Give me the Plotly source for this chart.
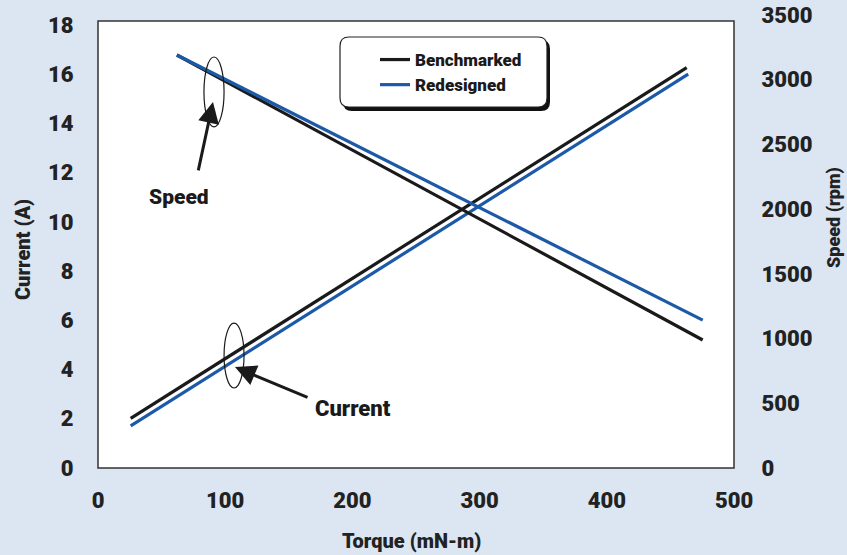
import plotly.graph_objects as go

# ---- data ----
torque_bench_current = [25.7, 462.8]
current_bench = [2.02, 16.27]
torque_red_current = [25.7, 464.0]
current_red = [1.71, 16.0]

torque_speed = [62.0, 475.4]
speed_bench = [3191, 989]
speed_red = [3191, 1143]

x_ticks = [0, 100, 200, 300, 400, 500]
y_ticks = [0, 2, 4, 6, 8, 10, 12, 14, 16, 18]
y2_ticks = [0, 500, 1000, 1500, 2000, 2500, 3000, 3500]

BLACK = "#1a1a1a"
BLUE = "#1c5aa8"
BG = "#dbe6f2"
FONT = "Roboto, Liberation Sans, sans-serif"

W, H = 847, 555
L, R, T, B = 98, 113, 15, 87
PW, PH = W - L - R, H - T - B
PLOT_TOP_PX = 21
ytop = (H - B - PLOT_TOP_PX) / PH  # domain top of the left axis / border


def px2paper(px, py):
    return (px - L) / PW, (H - B - py) / PH


def rounded_rect(x0, y0, x1, y1, r):
    def P(x, y):
        a, b = px2paper(x, y)
        return f"{a:.5f},{b:.5f}"
    d = f"M {P(x0 + r, y0)} L {P(x1 - r, y0)} Q {P(x1, y0)} {P(x1, y0 + r)} "
    d += f"L {P(x1, y1 - r)} Q {P(x1, y1)} {P(x1 - r, y1)} "
    d += f"L {P(x0 + r, y1)} Q {P(x0, y1)} {P(x0, y1 - r)} "
    d += f"L {P(x0, y0 + r)} Q {P(x0, y0)} {P(x0 + r, y0)} Z"
    return d


fig = go.Figure()
fig.add_trace(go.Scatter(x=torque_bench_current, y=current_bench, mode="lines",
                         line=dict(color=BLACK, width=3.2), name="Benchmarked",
                         xaxis="x", yaxis="y"))
fig.add_trace(go.Scatter(x=torque_red_current, y=current_red, mode="lines",
                         line=dict(color=BLUE, width=3.2), name="Redesigned",
                         xaxis="x", yaxis="y"))
fig.add_trace(go.Scatter(x=torque_speed, y=speed_bench, mode="lines",
                         line=dict(color=BLACK, width=3.2), name="Benchmarked",
                         showlegend=False, xaxis="x", yaxis="y2"))
fig.add_trace(go.Scatter(x=torque_speed, y=speed_red, mode="lines",
                         line=dict(color=BLUE, width=3.2), name="Redesigned",
                         showlegend=False, xaxis="x", yaxis="y2"))

tickfont = dict(family=FONT, size=22, color="#222222", weight=900)
titlefont = dict(family=FONT, size=20, color="#222222", weight=900)
titlefont_r = dict(family=FONT, size=18, color="#222222", weight=900)
notefont_s = dict(family=FONT, size=21, color=BLACK, weight=900)
notefont_c = dict(family=FONT, size=22, color=BLACK, weight=900)

shapes = [
    # plot area
    dict(type="rect", xref="paper", yref="paper", x0=0, x1=1, y0=0, y1=ytop,
         fillcolor="white", line=dict(color="#333333", width=1.5), layer="below"),
    # legend box shadow + box
    dict(type="path", xref="paper", yref="paper", path=rounded_rect(343, 40, 550, 111, 9),
         fillcolor="#111111", line=dict(width=0), layer="above"),
    dict(type="path", xref="paper", yref="paper", path=rounded_rect(340, 37, 547, 107, 9),
         fillcolor="white", line=dict(color="#222222", width=1.2), layer="above"),
    # ellipses
    dict(type="circle", xref="x", yref="y", x0=83.3, x1=99.1, y0=13.86, y1=16.7,
         line=dict(color=BLACK, width=1.2)),
    dict(type="circle", xref="x", yref="y", x0=99.1, x1=114.8, y0=3.25, y1=5.89,
         line=dict(color=BLACK, width=1.2)),
]

annotations = [
    dict(x=90.4, y=14.87, ax=78.6, ay=12.03, xref="x", yref="y", axref="x", ayref="y",
         text="", showarrow=True, arrowhead=2, arrowsize=1.4, arrowwidth=3, arrowcolor=BLACK),
    dict(x=107.7, y=4.10, ax=165.9, ay=2.84, xref="x", yref="y", axref="x", ayref="y",
         text="", showarrow=True, arrowhead=2, arrowsize=1.4, arrowwidth=3, arrowcolor=BLACK),
    dict(x=63.7, y=11.01, xref="x", yref="y", text="Speed", showarrow=False, font=notefont_s,
         xanchor="center", yanchor="middle"),
    dict(x=200.5, y=2.40, xref="x", yref="y", text="Current", showarrow=False, font=notefont_c,
         xanchor="center", yanchor="middle"),
    # axis titles
    dict(x=px2paper(23, 0)[0], y=px2paper(0, 250)[1], xref="paper", yref="paper",
         text="Current (A)", textangle=-90, showarrow=False, font=titlefont,
         xanchor="center", yanchor="middle"),
    dict(x=px2paper(834, 0)[0], y=px2paper(0, 218)[1], xref="paper", yref="paper",
         text="Speed (rpm)", textangle=-90, showarrow=False, font=titlefont_r,
         xanchor="center", yanchor="middle"),
    dict(x=px2paper(411, 0)[0], y=px2paper(0, 541)[1], xref="paper", yref="paper",
         text="Torque (mN-m)", showarrow=False, font=titlefont,
         xanchor="center", yanchor="middle"),
]

lx, ly = px2paper(375, 42)

fig.update_layout(
    width=W, height=H,
    margin=dict(l=L, r=R, t=T, b=B, pad=0, autoexpand=False),
    paper_bgcolor=BG, plot_bgcolor="rgba(0,0,0,0)",
    showlegend=True,
    legend=dict(x=lx, y=ly, xanchor="left", yanchor="top", bgcolor="rgba(0,0,0,0)",
                borderwidth=0, font=dict(family=FONT, size=17, color=BLACK, weight=900),
                tracegroupgap=0, itemwidth=30),
    xaxis=dict(domain=[0, 1], range=[0, 500], tickvals=x_ticks, showgrid=False,
               zeroline=False, showline=False, ticks="outside", ticklen=13,
               tickcolor="rgba(0,0,0,0)", tickfont=tickfont, anchor="y",
               automargin=False),
    yaxis=dict(domain=[0, ytop], range=[0, 18 * 447 / 443], tickvals=y_ticks,
               showgrid=False, zeroline=False, showline=False, ticks="outside",
               ticklen=19, tickcolor="rgba(0,0,0,0)", tickfont=tickfont, anchor="x",
               automargin=False),
    yaxis2=dict(domain=[0, 1], range=[0, 3500], tickvals=y2_ticks, side="right",
                showgrid=False, zeroline=False, showline=False, ticks="outside",
                ticklen=22, tickcolor="rgba(0,0,0,0)", tickfont=tickfont, anchor="x",
                automargin=False),
    shapes=shapes,
    annotations=annotations,
)

fig.write_html("out.html", config={"displayModeBar": False},
               post_script="document.body.style.margin='0';document.body.style.background='%s';" % BG)
